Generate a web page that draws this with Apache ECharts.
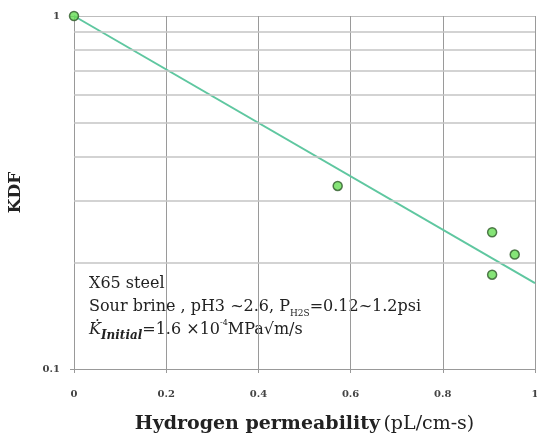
<!DOCTYPE html>
<html>
<head>
<meta charset="utf-8">
<script src="https://cdn.jsdelivr.net/npm/echarts@6/dist/echarts.min.js"></script>
<style>
  html, body { margin: 0; padding: 0; background: #fff; }
  #chart { width: 537px; height: 436px; }
</style>
</head>
<body>
<div id="chart"></div>
<script>
// measured points (hydrogen permeability, KDF)
const permeability = [0, 0.572, 0.907, 0.956, 0.907];
const kdf = [1, 0.33, 0.244, 0.211, 0.185];
// trend line end points
const fitX = [0, 1];
const fitY = [1, 0.175];
// minor log grid lines between 0.1 and 1
const minorGrid = [0.2, 0.3, 0.4, 0.5, 0.6, 0.7, 0.8, 0.9];

const serif = "'DejaVu Serif', 'Liberation Serif', serif";

const chart = echarts.init(document.getElementById("chart"));

chart.setOption({
  animation: false,
  grid: { left: 74, right: 2, top: 16, bottom: 67, outerBoundsMode: "none" },
  xAxis: {
    type: "value",
    min: 0,
    max: 1,
    interval: 0.2,
    name: "{b|Hydrogen permeability} {n|(pL/cm-s)}",
    nameLocation: "middle",
    nameGap: 46,
    nameTextStyle: {
      rich: {
        b: { fontFamily: serif, fontSize: 19, fontWeight: "bold", color: "#222" },
        n: { fontFamily: serif, fontSize: 19, color: "#222" },
      },
    },
    axisLine: { show: true, lineStyle: { color: "#999", width: 1 } },
    axisTick: { show: true, length: 4, lineStyle: { color: "#999" } },
    axisLabel: { fontFamily: serif, fontSize: 10, fontWeight: "bold", color: "#444", margin: 20 },
    splitLine: { show: true, lineStyle: { color: "#9a9a9a", width: 1 } },
  },
  yAxis: {
    type: "log",
    logBase: 10,
    min: 0.1,
    max: 1,
    name: "KDF",
    nameLocation: "middle",
    nameGap: 50,
    nameTextStyle: { fontFamily: serif, fontSize: 17, fontWeight: "bold", color: "#222" },
    axisLine: { show: true, lineStyle: { color: "#999", width: 1 } },
    axisTick: { show: true, length: 4, lineStyle: { color: "#999" } },
    axisLabel: { fontFamily: serif, fontSize: 10, fontWeight: "bold", color: "#444", margin: 14 },
    splitLine: { show: true, lineStyle: { color: "#bdbdbd", width: 1 } },
  },
  series: [
    {
      type: "line",
      data: fitX.map((x, i) => [x, fitY[i]]),
      symbol: "none",
      lineStyle: { color: "#5fc7a0", width: 2 },
      markLine: {
        silent: true,
        symbol: "none",
        label: { show: false },
        lineStyle: { color: "#c4c4c4", width: 1.5, type: "solid" },
        data: minorGrid.map((v) => ({ yAxis: v })),
      },
      z: 3,
    },
    {
      type: "scatter",
      data: permeability.map((x, i) => [x, kdf[i]]),
      symbol: "circle",
      symbolSize: 9,
      itemStyle: { color: "#66dd55", borderColor: "#2f5a2a", borderWidth: 1.5 },
      z: 4,
    },
  ],
  graphic: [
    {
      type: "text",
      left: 89,
      top: 276,
      style: {
        text: "{m|X65 steel}\n{m|Sour brine , pH3 ~2.6, P}{s|H2S}{m|=0.12~1.2psi}\n{k|K̇}{si|Initial}{m|=1.6 ×10}{sup|-4}{m|MPa√m/s}",
        fontFamily: serif,
        fill: "#222",
        rich: {
          m: { fontFamily: serif, fontSize: 16, lineHeight: 23, fill: "#222" },
          s: { fontFamily: serif, fontSize: 9, lineHeight: 18, verticalAlign: "bottom", fill: "#222" },
          k: { fontFamily: serif, fontSize: 16, fontStyle: "italic", lineHeight: 23, fill: "#222" },
          si: { fontFamily: serif, fontSize: 12, fontStyle: "italic", fontWeight: "bold", lineHeight: 20, verticalAlign: "bottom", fill: "#222" },
          sup: { fontFamily: serif, fontSize: 8, lineHeight: 12, verticalAlign: "top", fill: "#222" },
        },
      },
    },
  ],
});
</script>
</body>
</html>
